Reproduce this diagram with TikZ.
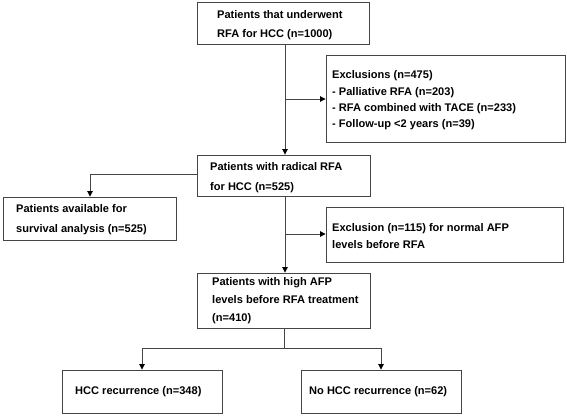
\documentclass[tikz,border=0pt]{standalone}
\usepackage{fontspec}
\setmainfont{Liberation Sans}
\usetikzlibrary{arrows.meta}
\definecolor{linec}{HTML}{454545}
\begin{document}
\begin{tikzpicture}[x=1bp,y=-1bp,
  box/.style={draw=linec, line width=0.9bp, fill=white, inner sep=0},
  txt/.style={anchor=west, inner sep=0, align=left, font=\bfseries\fontsize{11.1}{19}\selectfont},
  conn/.style={draw=linec, line width=0.9bp},
  arr/.style={conn, -{Triangle[length=5.5bp,width=5.5bp,color=black]}}]
\useasboundingbox[fill=white] (0,0) rectangle (567,415);
% boxes
\node[box, minimum width=172bp, minimum height=42bp] (b1) at (283,23) {};
\node[box, minimum width=239bp, minimum height=87bp] (b2) at (445.5,98.5) {};
\node[box, minimum width=173bp, minimum height=41bp] (b3) at (283.5,175.5) {};
\node[box, minimum width=173bp, minimum height=43bp] (b4) at (89.5,218.5) {};
\node[box, minimum width=237bp, minimum height=55bp] (b5) at (444.5,234.5) {};
\node[box, minimum width=173bp, minimum height=55bp] (b6) at (283.5,300.5) {};
\node[box, minimum width=160bp, minimum height=43bp] (b7) at (142,391.5) {};
\node[box, minimum width=160bp, minimum height=43bp] (b8) at (381,391.5) {};
% texts
\node[txt] (t1) at (217,25.5) {Patients that underwent\\RFA for HCC (n=1000)};
\node[txt, font=\bfseries\fontsize{11.1}{16.4}\selectfont] (t2) at (332,100.5) {Exclusions (n=475)\\- Palliative RFA (n=203)\\- RFA combined with TACE (n=233)\\- Follow-up {<}2 years (n=39)};
\node[txt, font=\bfseries\fontsize{11.1}{20}\selectfont] (t3) at (210,177.5) {Patients with radical RFA\\for HCC (n=525)};
\node[txt, font=\bfseries\fontsize{11.1}{20}\selectfont] (t4) at (16,220) {Patients available for\\survival analysis (n=525)};
\node[txt, font=\bfseries\fontsize{11.1}{17}\selectfont] (t5) at (332,236.5) {Exclusion (n=115) for normal AFP\\levels before RFA};
\node[txt, font=\bfseries\fontsize{11.1}{18}\selectfont] (t6) at (212,301) {Patients with high AFP\\levels before RFA treatment\\(n=410)};
\node[txt] (t7) at (75,392) {HCC recurrence (n=348)};
\node[txt] (t8) at (309,392) {No HCC recurrence (n=62)};
% junctions
\coordinate (j1) at (285,99);
\coordinate (j2) at (90,174);
\coordinate (j3) at (285,234);
\coordinate (j4) at (284,348);
\coordinate (j5) at (142,348);
\coordinate (j6) at (381,348);
% connectors
\draw[arr] (b1.south -| j1) -- (b3.north -| j1);
\draw[arr] (j1) -- (b2.west |- j1);
\draw[arr] (b3.west |- j2) -- (j2) -- (b4.north -| j2);
\draw[arr] (b3.south -| j3) -- (b6.north -| j3);
\draw[arr] (j3) -- (b5.west |- j3);
\draw[conn] (b6.south -| j4) -- (j4);
\draw[arr] (j4) -- (j5) -- (b7.north -| j5);
\draw[arr] (j4) -- (j6) -- (b8.north -| j6);
\end{tikzpicture}
\end{document}
